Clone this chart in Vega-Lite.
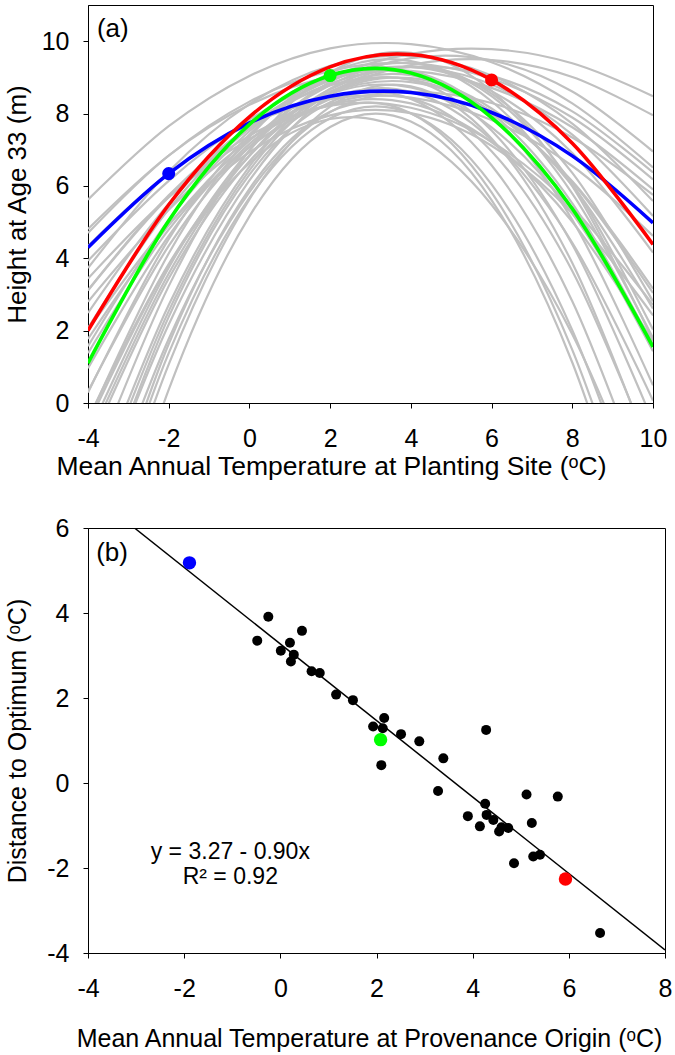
{
"$schema": "https://vega.github.io/schema/vega-lite/v6.json",
"background": "white",
"padding": {"left": 4, "top": 4, "right": 4, "bottom": 4},
"bounds": "flush",
"spacing": 125,
"config": {
  "font": "Liberation Sans",
  "view": {"stroke": "#000", "strokeWidth": 1},
  "axis": {"grid": false, "domainColor": "#000", "tickColor": "#000", "labelColor": "#000", "titleColor": "#000", "tickSize": 5, "labelFontSize": 25, "titleFontSize": 25, "titleFontWeight": "normal", "labelFlush": false, "labelOverlap": false, "labelExpr": "'' + datum.value"},
  "axisX": {"labelPadding": 18},
  "axisY": {"labelPadding": 14}
},
"datasets": {
  "curves": [
    {"g":1,"t":-4,"h":3.93},{"g":1,"t":-2,"h":6.14},{"g":1,"t":0,"h":7.83},{"g":1,"t":2,"h":9.0},{"g":1,"t":4,"h":9.65},{"g":1,"t":6,"h":9.78},{"g":1,"t":8,"h":9.39},{"g":1,"t":10,"h":8.48},
    {"g":2,"t":-4,"h":2.8},{"g":2,"t":-2,"h":5.34},{"g":2,"t":0,"h":7.27},{"g":2,"t":2,"h":8.61},{"g":2,"t":4,"h":9.34},{"g":2,"t":6,"h":9.48},{"g":2,"t":8,"h":9.01},{"g":2,"t":10,"h":7.95},
    {"g":3,"t":-4,"h":1.77},{"g":3,"t":-2,"h":4.91},{"g":3,"t":0,"h":7.25},{"g":3,"t":2,"h":8.79},{"g":3,"t":4,"h":9.53},{"g":3,"t":6,"h":9.47},{"g":3,"t":8,"h":8.61},{"g":3,"t":10,"h":6.95},
    {"g":4,"t":-4,"h":3.12},{"g":4,"t":-2,"h":5.74},{"g":4,"t":0,"h":7.64},{"g":4,"t":2,"h":8.83},{"g":4,"t":4,"h":9.29},{"g":4,"t":6,"h":9.04},{"g":4,"t":8,"h":8.06},{"g":4,"t":10,"h":6.37},
    {"g":5,"t":-4,"h":5.62},{"g":5,"t":-2,"h":7.65},{"g":5,"t":0,"h":9.04},{"g":5,"t":2,"h":9.8},{"g":5,"t":4,"h":9.92},{"g":5,"t":6,"h":9.42},{"g":5,"t":8,"h":8.28},{"g":5,"t":10,"h":6.51},
    {"g":6,"t":-4,"h":4.7},{"g":6,"t":-2,"h":6.84},{"g":6,"t":0,"h":8.33},{"g":6,"t":2,"h":9.18},{"g":6,"t":4,"h":9.39},{"g":6,"t":6,"h":8.96},{"g":6,"t":8,"h":7.89},{"g":6,"t":10,"h":6.18},
    {"g":7,"t":-4,"h":3.44},{"g":7,"t":-2,"h":5.69},{"g":7,"t":0,"h":7.3},{"g":7,"t":2,"h":8.27},{"g":7,"t":4,"h":8.6},{"g":7,"t":6,"h":8.29},{"g":7,"t":8,"h":7.34},{"g":7,"t":10,"h":5.75},
    {"g":8,"t":-4,"h":4.81},{"g":8,"t":-2,"h":6.84},{"g":8,"t":0,"h":8.24},{"g":8,"t":2,"h":9.02},{"g":8,"t":4,"h":9.18},{"g":8,"t":6,"h":8.71},{"g":8,"t":8,"h":7.62},{"g":8,"t":10,"h":5.9},
    {"g":9,"t":-4,"h":4.34},{"g":9,"t":-2,"h":6.35},{"g":9,"t":0,"h":7.7},{"g":9,"t":2,"h":8.4},{"g":9,"t":4,"h":8.44},{"g":9,"t":6,"h":7.82},{"g":9,"t":8,"h":6.55},{"g":9,"t":10,"h":4.62},
    {"g":10,"t":-4,"h":3.73},{"g":10,"t":-2,"h":6.4},{"g":10,"t":0,"h":8.26},{"g":10,"t":2,"h":9.32},{"g":10,"t":4,"h":9.59},{"g":10,"t":6,"h":9.05},{"g":10,"t":8,"h":7.72},{"g":10,"t":10,"h":5.58},
    {"g":11,"t":-4,"h":2.49},{"g":11,"t":-2,"h":5.51},{"g":11,"t":0,"h":7.65},{"g":11,"t":2,"h":8.92},{"g":11,"t":4,"h":9.28},{"g":11,"t":6,"h":8.8},{"g":11,"t":8,"h":7.42},{"g":11,"t":10,"h":5.17},
    {"g":12,"t":-4,"h":2.07},{"g":12,"t":-2,"h":5.35},{"g":12,"t":0,"h":7.58},{"g":12,"t":2,"h":8.78},{"g":12,"t":4,"h":8.94},{"g":12,"t":6,"h":8.05},{"g":12,"t":8,"h":6.13},{"g":12,"t":10,"h":3.16},
    {"g":13,"t":-4,"h":1.38},{"g":13,"t":-2,"h":4.79},{"g":13,"t":0,"h":7.07},{"g":13,"t":2,"h":8.24},{"g":13,"t":4,"h":8.28},{"g":13,"t":6,"h":7.21},{"g":13,"t":8,"h":5.01},{"g":13,"t":10,"h":1.7},
    {"g":14,"t":-4,"h":0.32},{"g":14,"t":-2,"h":4.34},{"g":14,"t":0,"h":7.08},{"g":14,"t":2,"h":8.54},{"g":14,"t":4,"h":8.72},{"g":14,"t":6,"h":7.62},{"g":14,"t":8,"h":5.24},{"g":14,"t":10,"h":1.58},
    {"g":15,"t":-4,"h":0.29},{"g":15,"t":-2,"h":4.53},{"g":15,"t":0,"h":7.42},{"g":15,"t":2,"h":8.94},{"g":15,"t":4,"h":9.1},{"g":15,"t":6,"h":7.9},{"g":15,"t":8,"h":5.35},{"g":15,"t":10,"h":1.43},
    {"g":16,"t":-4,"h":-0.5},{"g":16,"t":-2,"h":4.13},{"g":16,"t":0,"h":7.35},{"g":16,"t":2,"h":9.12},{"g":16,"t":4,"h":9.45},{"g":16,"t":6,"h":8.34},{"g":16,"t":8,"h":5.79},{"g":16,"t":10,"h":1.8},
    {"g":17,"t":-4,"h":-2.1},{"g":17,"t":-2,"h":3.23},{"g":17,"t":0,"h":6.98},{"g":17,"t":2,"h":9.13},{"g":17,"t":4,"h":9.68},{"g":17,"t":6,"h":8.63},{"g":17,"t":8,"h":5.99},{"g":17,"t":10,"h":1.74},
    {"g":18,"t":-4,"h":-1.3},{"g":18,"t":-2,"h":3.44},{"g":18,"t":0,"h":6.68},{"g":18,"t":2,"h":8.4},{"g":18,"t":4,"h":8.6},{"g":18,"t":6,"h":7.27},{"g":18,"t":8,"h":4.43},{"g":18,"t":10,"h":0.07},
    {"g":19,"t":-4,"h":-3.1},{"g":19,"t":-2,"h":2.54},{"g":19,"t":0,"h":6.43},{"g":19,"t":2,"h":8.56},{"g":19,"t":4,"h":8.93},{"g":19,"t":6,"h":7.53},{"g":19,"t":8,"h":4.38},{"g":19,"t":10,"h":-0.52},
    {"g":20,"t":-4,"h":-0.6},{"g":20,"t":-2,"h":3.81},{"g":20,"t":0,"h":6.63},{"g":20,"t":2,"h":7.85},{"g":20,"t":4,"h":7.46},{"g":20,"t":6,"h":5.48},{"g":20,"t":8,"h":1.9},{"g":20,"t":10,"h":-3.3},
    {"g":21,"t":-4,"h":-3.4},{"g":21,"t":-2,"h":2.17},{"g":21,"t":0,"h":6.15},{"g":21,"t":2,"h":8.52},{"g":21,"t":4,"h":9.3},{"g":21,"t":6,"h":8.48},{"g":21,"t":8,"h":6.05},{"g":21,"t":10,"h":2.03},
    {"g":22,"t":-4,"h":-3.5},{"g":22,"t":-2,"h":2.38},{"g":22,"t":0,"h":6.31},{"g":22,"t":2,"h":8.31},{"g":22,"t":4,"h":8.4},{"g":22,"t":6,"h":6.57},{"g":22,"t":8,"h":2.81},{"g":22,"t":10,"h":-2.9},
    {"g":23,"t":-4,"h":-0.9},{"g":23,"t":-2,"h":3.74},{"g":23,"t":0,"h":6.98},{"g":23,"t":2,"h":8.87},{"g":23,"t":4,"h":9.39},{"g":23,"t":6,"h":8.55},{"g":23,"t":8,"h":6.36},{"g":23,"t":10,"h":2.81},
    {"g":24,"t":-4,"h":-5.0},{"g":24,"t":-2,"h":1.38},{"g":24,"t":0,"h":5.67},{"g":24,"t":2,"h":7.87},{"g":24,"t":4,"h":8.0},{"g":24,"t":6,"h":6.04},{"g":24,"t":8,"h":2.01},{"g":24,"t":10,"h":-4.1},
    {"g":25,"t":-4,"h":-1.1},{"g":25,"t":-2,"h":3.58},{"g":25,"t":0,"h":6.84},{"g":25,"t":2,"h":8.67},{"g":25,"t":4,"h":9.06},{"g":25,"t":6,"h":8.01},{"g":25,"t":8,"h":5.52},{"g":25,"t":10,"h":1.59},
    {"g":26,"t":-4,"h":-5.5},{"g":26,"t":-2,"h":1.07},{"g":26,"t":0,"h":5.63},{"g":26,"t":2,"h":8.19},{"g":26,"t":4,"h":8.75},{"g":26,"t":6,"h":7.31},{"g":26,"t":8,"h":3.87},{"g":26,"t":10,"h":-1.6},
    {"g":27,"t":-4,"h":-6.7},{"g":27,"t":-2,"h":0.37},{"g":27,"t":0,"h":5.16},{"g":27,"t":2,"h":7.63},{"g":27,"t":4,"h":7.78},{"g":27,"t":6,"h":5.61},{"g":27,"t":8,"h":1.12},{"g":27,"t":10,"h":-5.7},
    {"g":28,"t":-4,"h":-2.8},{"g":28,"t":-2,"h":2.71},{"g":28,"t":0,"h":6.54},{"g":28,"t":2,"h":8.69},{"g":28,"t":4,"h":9.16},{"g":28,"t":6,"h":7.95},{"g":28,"t":8,"h":5.06},{"g":28,"t":10,"h":0.49},
    {"g":29,"t":-4,"h":-4.1},{"g":29,"t":-2,"h":1.77},{"g":29,"t":0,"h":5.83},{"g":29,"t":2,"h":8.04},{"g":29,"t":4,"h":8.42},{"g":29,"t":6,"h":6.96},{"g":29,"t":8,"h":3.65},{"g":29,"t":10,"h":-1.5},
    {"g":30,"t":-4,"h":-0.44},{"g":30,"t":-2,"h":3.84},{"g":30,"t":0,"h":6.83},{"g":30,"t":2,"h":8.55},{"g":30,"t":4,"h":8.98},{"g":30,"t":6,"h":8.14},{"g":30,"t":8,"h":6.01},{"g":30,"t":10,"h":2.61},
    {"g":31,"t":-4,"h":-4.8},{"g":31,"t":-2,"h":1.63},{"g":31,"t":0,"h":5.92},{"g":31,"t":2,"h":8.05},{"g":31,"t":4,"h":8.01},{"g":31,"t":6,"h":5.82},{"g":31,"t":8,"h":1.47},{"g":31,"t":10,"h":-5.0},
    {"g":32,"t":-4,"h":0.96},{"g":32,"t":-2,"h":4.62},{"g":32,"t":0,"h":7.16},{"g":32,"t":2,"h":8.57},{"g":32,"t":4,"h":8.87},{"g":32,"t":6,"h":8.05},{"g":32,"t":8,"h":6.1},{"g":32,"t":10,"h":3.04},
    {"g":33,"t":-4,"h":1.57},{"g":33,"t":-2,"h":5.06},{"g":33,"t":0,"h":7.51},{"g":33,"t":2,"h":8.92},{"g":33,"t":4,"h":9.29},{"g":33,"t":6,"h":8.62},{"g":33,"t":8,"h":6.91},{"g":33,"t":10,"h":4.16},
    {"g":34,"t":-4,"h":2.02},{"g":34,"t":-2,"h":4.95},{"g":34,"t":0,"h":6.93},{"g":34,"t":2,"h":7.95},{"g":34,"t":4,"h":8.01},{"g":34,"t":6,"h":7.11},{"g":34,"t":8,"h":5.24},{"g":34,"t":10,"h":2.42},
    {"g":35,"t":-4,"h":3.11},{"g":35,"t":-2,"h":5.69},{"g":35,"t":0,"h":7.39},{"g":35,"t":2,"h":8.22},{"g":35,"t":4,"h":8.16},{"g":35,"t":6,"h":7.22},{"g":35,"t":8,"h":5.41},{"g":35,"t":10,"h":2.71}
  ],
  "focal": [
    {"s":"blue","t":-4,"h":4.30},{"s":"blue","t":-2,"h":6.34},{"s":"blue","t":0,"h":7.74},{"s":"blue","t":2,"h":8.48},{"s":"blue","t":4,"h":8.58},{"s":"blue","t":6,"h":8.03},{"s":"blue","t":8,"h":6.83},{"s":"blue","t":10,"h":4.98},
    {"s":"green","t":-4,"h":1.10},{"s":"green","t":-2,"h":5.04},{"s":"green","t":0,"h":7.70},{"s":"green","t":2,"h":9.05},{"s":"green","t":4,"h":9.12},{"s":"green","t":6,"h":7.89},{"s":"green","t":8,"h":5.37},{"s":"green","t":10,"h":1.55},
    {"s":"red","t":-4,"h":2.00},{"s":"red","t":-2,"h":5.48},{"s":"red","t":0,"h":7.91},{"s":"red","t":2,"h":9.29},{"s":"red","t":4,"h":9.63},{"s":"red","t":6,"h":8.93},{"s":"red","t":8,"h":7.18},{"s":"red","t":10,"h":4.38}
  ],
  "focalPts": [
    {"s":"blue","t":-2,"h":6.34},{"s":"green","t":2,"h":9.05},{"s":"red","t":6,"h":8.93}
  ],
  "prov": [
    {"t":-0.25,"d":3.91},{"t":-0.48,"d":3.35},{"t":0.45,"d":3.58},{"t":0.20,"d":3.30},{"t":0.01,"d":3.11},{"t":0.28,"d":3.02},{"t":0.22,"d":2.86},{"t":0.65,"d":2.63},{"t":0.82,"d":2.59},{"t":1.16,"d":2.08},
    {"t":1.51,"d":1.95},{"t":2.16,"d":1.53},{"t":1.93,"d":1.33},{"t":2.13,"d":1.29},{"t":2.51,"d":1.15},{"t":2.89,"d":0.98},{"t":2.10,"d":0.42},{"t":4.28,"d":1.25},{"t":3.39,"d":0.58},{"t":3.28,"d":-0.19},
    {"t":4.26,"d":-0.49},{"t":5.12,"d":-0.27},{"t":5.77,"d":-0.32},{"t":3.90,"d":-0.78},{"t":4.29,"d":-0.75},{"t":4.43,"d":-0.87},{"t":4.15,"d":-1.02},{"t":5.23,"d":-0.94},{"t":4.60,"d":-1.04},{"t":4.55,"d":-1.14},
    {"t":4.74,"d":-1.06},{"t":4.86,"d":-1.89},{"t":5.26,"d":-1.73},{"t":5.40,"d":-1.69},{"t":6.65,"d":-3.53}
  ],
  "provHi": [
    {"s":"blue","t":-1.89,"d":5.18},{"s":"green","t":2.085,"d":1.02},{"s":"red","t":5.93,"d":-2.26}
  ],
  "fit": [
    {"t":-3.033,"d":6.0},{"t":8,"d":-3.93}
  ]
},
"vconcat": [
  {
    "width": 565,
    "height": 398,
    "layer": [
      {
        "data": {"name": "curves"},
        "mark": {"type": "line", "interpolate": "cardinal", "clip": true, "color": "#c0c0c0", "strokeWidth": 2.2},
        "encoding": {
          "x": {"field": "t", "type": "quantitative", "scale": {"domain": [-4, 10], "nice": false, "zero": false},
                "axis": {"values": [-4,-2,0,2,4,6,8,10], "title": "Mean Annual Temperature at Planting Site (ᵒC)", "titleFontSize": 26.5, "titleX": 243, "titleY": 50}},
          "y": {"field": "h", "type": "quantitative", "scale": {"domain": [0, 11], "nice": false, "zero": false},
                "axis": {"values": [0,2,4,6,8,10], "title": "Height at Age 33 (m)", "titleFontSize": 26, "titleX": -57.5}},
          "detail": {"field": "g", "type": "nominal"}
        }
      },
      {
        "data": {"name": "focal"},
        "mark": {"type": "line", "interpolate": "cardinal", "clip": true, "strokeWidth": 3.6},
        "encoding": {
          "x": {"field": "t", "type": "quantitative"},
          "y": {"field": "h", "type": "quantitative"},
          "color": {"field": "s", "type": "nominal", "scale": {"domain": ["blue","green","red"], "range": ["#0000ff","#00ff00","#ff0000"]}, "legend": null}
        }
      },
      {
        "data": {"name": "focalPts"},
        "mark": {"type": "circle", "size": 170, "opacity": 1},
        "encoding": {
          "x": {"field": "t", "type": "quantitative"},
          "y": {"field": "h", "type": "quantitative"},
          "color": {"field": "s", "type": "nominal", "scale": {"domain": ["blue","green","red"], "range": ["#0000ff","#00ff00","#ff0000"]}, "legend": null}
        }
      },
      {
        "data": {"values": [{}]},
        "mark": {"type": "text", "text": "(a)", "align": "left", "baseline": "alphabetic", "fontSize": 26, "color": "#000"},
        "encoding": {
          "x": {"datum": -3.78, "type": "quantitative"},
          "y": {"datum": 10.12, "type": "quantitative"}
        }
      }
    ]
  },
  {
    "width": 577,
    "height": 425,
    "layer": [
      {
        "data": {"name": "fit"},
        "mark": {"type": "line", "clip": true, "color": "#000", "strokeWidth": 1.5},
        "encoding": {
          "x": {"field": "t", "type": "quantitative", "scale": {"domain": [-4, 8], "nice": false, "zero": false},
                "axis": {"values": [-4,-2,0,2,4,6,8], "title": "Mean Annual Temperature at Provenance Origin (ᵒC)", "titleX": 281, "titleY": 73}},
          "y": {"field": "d", "type": "quantitative", "scale": {"domain": [-4, 6], "nice": false, "zero": false},
                "axis": {"values": [-4,-2,0,2,4,6], "title": "Distance to Optimum (ᵒC)", "titleX": -57.5}}
        }
      },
      {
        "data": {"name": "prov"},
        "mark": {"type": "circle", "size": 100, "opacity": 1, "color": "#000"},
        "encoding": {
          "x": {"field": "t", "type": "quantitative"},
          "y": {"field": "d", "type": "quantitative"}
        }
      },
      {
        "data": {"name": "provHi"},
        "mark": {"type": "circle", "size": 180, "opacity": 1},
        "encoding": {
          "x": {"field": "t", "type": "quantitative"},
          "y": {"field": "d", "type": "quantitative"},
          "color": {"field": "s", "type": "nominal", "scale": {"domain": ["blue","green","red"], "range": ["#0000ff","#00ff00","#ff0000"]}, "legend": null}
        }
      },
      {
        "data": {"values": [{}]},
        "mark": {"type": "text", "text": "(b)", "align": "left", "baseline": "alphabetic", "fontSize": 26, "color": "#000"},
        "encoding": {
          "x": {"datum": -3.83, "type": "quantitative"},
          "y": {"datum": 5.22, "type": "quantitative"}
        }
      },
      {
        "data": {"values": [{}]},
        "mark": {"type": "text", "text": "y = 3.27 - 0.90x", "align": "center", "baseline": "alphabetic", "fontSize": 23, "color": "#000"},
        "encoding": {
          "x": {"datum": -1.04, "type": "quantitative"},
          "y": {"datum": -1.78, "type": "quantitative"}
        }
      },
      {
        "data": {"values": [{}]},
        "mark": {"type": "text", "text": "R² = 0.92", "align": "center", "baseline": "alphabetic", "fontSize": 23, "color": "#000"},
        "encoding": {
          "x": {"datum": -1.04, "type": "quantitative"},
          "y": {"datum": -2.37, "type": "quantitative"}
        }
      }
    ]
  }
]
}
